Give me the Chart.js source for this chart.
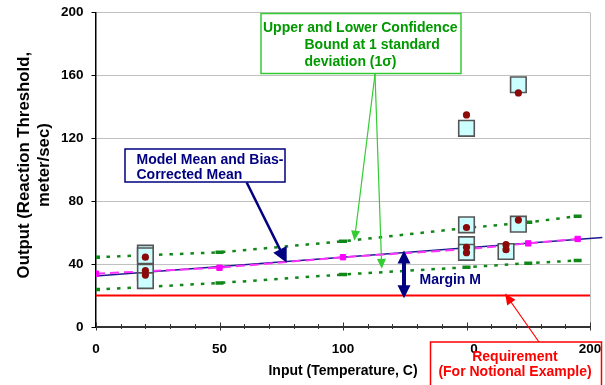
<!DOCTYPE html>
<html><head><meta charset="utf-8">
<script src="https://cdn.jsdelivr.net/npm/chart.js@4/dist/chart.umd.min.js"></script>
<style>html,body{margin:0;padding:0;background:#fff;}#wrap{width:605px;height:385px;position:relative;}</style>
</head><body><div id="wrap"><canvas id="c"></canvas></div>
<script>
// ---- data ----
const boundX = [0, 50, 100, 150, 175, 195];
const upperBound = [44.4, 47.5, 54.5, 63.0, 66.6, 70.5];
const lowerBound = [23.8, 28.0, 33.4, 38.0, 40.6, 42.3];
const biasCorrected = [33.9, 37.7, 44.4, 49.5, 53.2, 56.0];
const meanX = [0, 205];
const modelMean = [32.4, 56.9];
const requirementX = [0, 200];
const requirement = [20, 20];
const modelX = [20, 20, 20, 20, 150, 150, 150, 150, 166, 171, 171];
const modelY = [47.0, 45.3, 34.8, 29.5, 126.4, 65.0, 52.4, 47.5, 48.0, 154.1, 65.4];
const obsX = [20, 20, 20, 150, 150, 150, 150, 166, 166, 171, 171];
const obsY = [44.4, 35.8, 33.0, 134.9, 63.3, 50.7, 47.3, 52.4, 49.2, 148.9, 68.0];
const xTickLabels = [0, 50, 100, 150, 200];
const yTickLabels = [0, 40, 80, 120, 160, 200];

const FONT = '"Liberation Sans", Arial, sans-serif';
const pts = (xs, ys) => xs.map((x, i) => ({x: x, y: ys[i]}));

function arrowHead(ctx, x1, y1, x2, y2, len, wid, color) {
  const a = Math.atan2(y2 - y1, x2 - x1);
  ctx.save();
  ctx.fillStyle = color;
  ctx.translate(x2, y2); ctx.rotate(a);
  ctx.beginPath(); ctx.moveTo(0, 0); ctx.lineTo(-len, -wid / 2); ctx.lineTo(-len, wid / 2); ctx.closePath(); ctx.fill();
  ctx.restore();
}
function arrow(ctx, x1, y1, x2, y2, len, wid, lw, color, both) {
  const a = Math.atan2(y2 - y1, x2 - x1);
  const sx = both ? x1 + Math.cos(a) * len * 0.8 : x1, sy = both ? y1 + Math.sin(a) * len * 0.8 : y1;
  ctx.save();
  ctx.strokeStyle = color; ctx.lineWidth = lw;
  ctx.beginPath(); ctx.moveTo(sx, sy); ctx.lineTo(x2 - Math.cos(a) * len * 0.8, y2 - Math.sin(a) * len * 0.8); ctx.stroke();
  ctx.restore();
  arrowHead(ctx, x1, y1, x2, y2, len, wid, color);
  if (both) arrowHead(ctx, x2, y2, x1, y1, len, wid, color);
}

const decor = {
  id: 'decor',
  beforeDatasetsDraw(chart) {
    const {ctx, chartArea: ca} = chart;
    ctx.save();
    ctx.strokeStyle = '#c0c0c0'; ctx.lineWidth = 1;
    ctx.beginPath(); ctx.moveTo(ca.right + 0.5, ca.top); ctx.lineTo(ca.right + 0.5, ca.bottom); ctx.stroke();
    ctx.restore();
  },
  afterDraw(chart) {
    const {ctx, chartArea: ca} = chart;
    const xs = chart.scales.x, ys = chart.scales.y;
    const X = v => xs.getPixelForValue(v), Y = v => ys.getPixelForValue(v);
    ctx.save();
    // x-axis tick marks crossing the axis
    ctx.strokeStyle = '#333'; ctx.lineWidth = 1;
    for (let v = 0; v <= 200; v += 10) {
      const major = v % 50 === 0;
      const px = Math.round(X(v)) + 0.5;
      ctx.beginPath();
      ctx.moveTo(px, ca.bottom - (major ? 4.5 : 3));
      ctx.lineTo(px, ca.bottom + (major ? 3.5 : 2));
      ctx.stroke();
    }
    // Green annotation box
    ctx.font = 'bold 14px ' + FONT;
    ctx.textBaseline = 'middle'; ctx.textAlign = 'left';
    ctx.strokeStyle = '#33cc33'; ctx.lineWidth = 1.5;
    ctx.strokeRect(261, 13.5, 200, 60);
    ctx.fillStyle = '#009900';
    ctx.fillText('Upper and Lower Confidence', 263, 28.5);
    ctx.fillText('Bound at 1 standard', 304.5, 45);
    ctx.fillText('deviation (1\u03c3)', 304.5, 62);
    arrow(ctx, 375, 74, X(104.6), Y(54.9), 10, 9, 1.2, '#33cc33');
    arrow(ctx, 375, 74, X(115.7), Y(37.0), 10, 9, 1.2, '#33cc33');
    // Navy annotation box
    ctx.strokeStyle = '#000080'; ctx.lineWidth = 1.5;
    ctx.fillStyle = '#fff';
    ctx.fillRect(125, 149, 160, 33);
    ctx.strokeRect(125, 149, 160, 33);
    ctx.fillStyle = '#000080';
    ctx.fillText('Model Mean and Bias-', 136.5, 160.5);
    ctx.fillText('Corrected Mean', 136.5, 175.5);
    arrow(ctx, 246.7, 182.5, X(77.2), Y(40.8), 15, 15, 2.5, '#000080');
    // Margin M
    arrow(ctx, X(124.7), Y(48.6), X(124.7), Y(18.3), 13, 13, 4, '#000080', true);
    ctx.fillText('Margin M', 419.5, 280.5);
    // Requirement box (hides the first digits of the 150 tick label)
    ctx.font = 'bold 13.5px ' + FONT;
    const w150 = ctx.measureText('150').width, w0 = ctx.measureText('0').width;
    ctx.fillStyle = '#fff';
    ctx.fillRect(430, 342, X(150) + w150 / 2 - w0 - 430, 16);
    ctx.strokeStyle = '#ff0000'; ctx.lineWidth = 1.5;
    ctx.strokeRect(430.5, 342, 171, 60);
    ctx.font = 'bold 14px ' + FONT;
    ctx.fillStyle = '#ff0000'; ctx.textAlign = 'center';
    ctx.fillText('Requirement', 515, 357);
    ctx.fillText('(For Notional Example)', 515, 372);
    arrow(ctx, 539, 342, X(165.6), Y(21.3), 11, 10, 1.2, '#ff0000');
    ctx.restore();
  }
};

new Chart(document.getElementById('c'), {
  type: 'scatter',
  data: {
    datasets: [
      {label: 'Requirement', data: pts(requirementX, requirement), showLine: true, borderColor: '#ff0000', borderWidth: 2, pointRadius: 0, order: 6},
      {label: 'Upper 1σ', data: pts(boundX, upperBound), showLine: true, borderColor: '#11871a', borderWidth: 2.5, borderDash: [3.5, 7], pointStyle: 'line', pointRadius: 4, pointBorderWidth: 3.5, pointBorderColor: '#11871a', order: 5},
      {label: 'Lower 1σ', data: pts(boundX, lowerBound), showLine: true, borderColor: '#11871a', borderWidth: 2.5, borderDash: [3.5, 7], pointStyle: 'line', pointRadius: 4, pointBorderWidth: 3.5, pointBorderColor: '#11871a', order: 5},
      {label: 'Model Mean', data: pts(meanX, modelMean), showLine: true, borderColor: '#1a1a8c', borderWidth: 1.5, pointRadius: 0, order: 4, clip: {left: 0, top: 0, right: 15, bottom: 0}},
      {label: 'Bias-Corrected Mean', data: pts(boundX, biasCorrected), showLine: true, borderColor: '#ff33ff', borderWidth: 2, borderDash: [9, 5], pointStyle: 'rect', pointRadius: 3.8, pointBackgroundColor: '#ff00ff', pointBorderColor: '#ff00ff', pointBorderWidth: 1, order: 3},
      {label: 'Model', data: pts(modelX, modelY), showLine: false, pointStyle: 'rect', pointRadius: 11, pointBackgroundColor: '#ccffff', pointBorderColor: '#555555', pointBorderWidth: 1.6, order: 2},
      {label: 'Observed', data: pts(obsX, obsY), showLine: false, pointStyle: 'circle', pointRadius: 3.6, pointBackgroundColor: '#8b0a0a', pointBorderColor: '#8b0a0a', pointBorderWidth: 0, order: 1}
    ]
  },
  options: {
    responsive: true, maintainAspectRatio: false, animation: false, devicePixelRatio: 1,
    layout: {padding: {top: 9, right: 15, bottom: 0, left: 0}},
    elements: {line: {tension: 0}},
    plugins: {legend: {display: false}, tooltip: {enabled: false}},
    scales: {
      x: {
        type: 'linear', min: 0, max: 200,
        afterFit: s => { s.height = 58; s.paddingLeft = 0; s.paddingRight = 0; },
        grid: {display: false, drawTicks: false},
        border: {display: true, color: '#333', width: 2},
        ticks: {stepSize: 10, autoSkip: false, maxRotation: 0, padding: 14, color: '#000',
          font: {family: FONT, size: 13.5, weight: 'bold'},
          callback: v => xTickLabels.includes(v) ? String(v) : ''},
        title: {display: true, text: 'Input (Temperature, C)', color: '#000', font: {family: FONT, size: 14, weight: 'bold'}, padding: {top: 0, bottom: 5}}
      },
      y: {
        type: 'linear', min: 0, max: 200,
        afterFit: s => { s.width = 96; s.paddingTop = 0; s.paddingBottom = 0; },
        grid: {color: '#c0c0c0', tickColor: '#000', lineWidth: 1, tickLength: 4.5},
        border: {display: true, color: '#000', width: 1.5},
        afterBuildTicks: s => { s.ticks = yTickLabels.map(v => ({value: v})); },
        ticks: {padding: 8, color: '#000', font: {family: FONT, size: 13.5, weight: 'bold'}},
        title: {display: true, text: ['  Output (Reaction Threshold,', '  meter/sec)'], color: '#000', font: {family: FONT, size: 16.8, weight: 'bold'}, padding: {top: 14, bottom: 0}}
      }
    }
  },
  plugins: [decor]
});
</script></body></html>
